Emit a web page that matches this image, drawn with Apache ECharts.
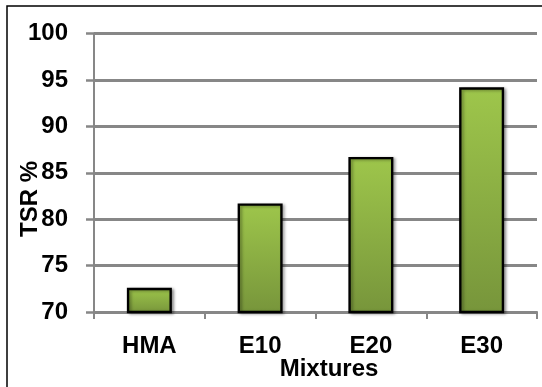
<!DOCTYPE html>
<html>
<head>
<meta charset="utf-8">
<script src="https://cdn.jsdelivr.net/npm/echarts@6/dist/echarts.min.js"></script>
<style>
  html, body { margin: 0; padding: 0; background: #fff; }
  #chart { width: 542px; height: 387px; }
</style>
</head>
<body>
<div id="chart"></div>
<script>
// Mixture categories and their TSR values (%)
const mixtures = ['HMA', 'E10', 'E20', 'E30'];
const tsrValues = [72.6, 81.7, 86.7, 94.2];

// Value axis range
const yMin = 70;
const yMax = 100;
const yStep = 5;

const FONT = '"Liberation Sans", Arial, sans-serif';
const GRAY = '#878787';

const chart = echarts.init(document.getElementById('chart'), null, { renderer: 'canvas' });

chart.setOption({
  animation: false,
  backgroundColor: '#ffffff',
  grid: { left: 94, right: 5, top: 33.5, bottom: 75, containLabel: false },
  xAxis: {
    type: 'category',
    data: mixtures,
    axisLine: { show: true, lineStyle: { color: GRAY, width: 2 } },
    axisTick: { show: true, length: 7, lineStyle: { color: GRAY, width: 2 } },
    axisLabel: {
      margin: 22,
      color: '#000',
      fontFamily: FONT,
      fontWeight: 'bold',
      fontSize: 24
    },
    splitLine: { show: false }
  },
  yAxis: {
    type: 'value',
    min: yMin,
    max: yMax,
    interval: yStep,
    axisLine: { show: true, lineStyle: { color: GRAY, width: 2 } },
    axisTick: { show: true, length: 8, lineStyle: { color: GRAY, width: 2.5 } },
    axisLabel: {
      margin: 26,
      color: '#000',
      fontFamily: FONT,
      fontWeight: 'bold',
      fontSize: 24
    },
    splitLine: { show: true, lineStyle: { color: GRAY, width: 2.8 } }
  },
  series: [{
    type: 'bar',
    data: tsrValues,
    barWidth: 45,
    itemStyle: {
      color: new echarts.graphic.LinearGradient(0, 0, 0, 1, [
        { offset: 0, color: '#9ec64b' },
        { offset: 1, color: '#77953b' }
      ]),
      borderColor: '#000000',
      borderWidth: 2.4,
      shadowColor: 'rgba(0,0,0,0.35)',
      shadowBlur: 3,
      shadowOffsetX: 2,
      shadowOffsetY: 1
    }
  }],
  graphic: [
    {
      // chart frame
      type: 'rect',
      shape: { x: 7, y: 6, width: 545, height: 400 },
      style: { fill: null, stroke: '#000', lineWidth: 1.5 },
      silent: true
    },
    {
      type: 'text',
      x: 30,
      y: 199,
      rotation: Math.PI / 2,
      style: {
        text: 'TSR %',
        font: 'bold 24px ' + FONT,
        fill: '#000',
        align: 'center',
        verticalAlign: 'middle'
      }
    },
    {
      type: 'text',
      x: 329,
      y: 369,
      style: {
        text: 'Mixtures',
        font: 'bold 24px ' + FONT,
        fill: '#000',
        align: 'center',
        verticalAlign: 'middle'
      }
    }
  ]
});
</script>
</body>
</html>
